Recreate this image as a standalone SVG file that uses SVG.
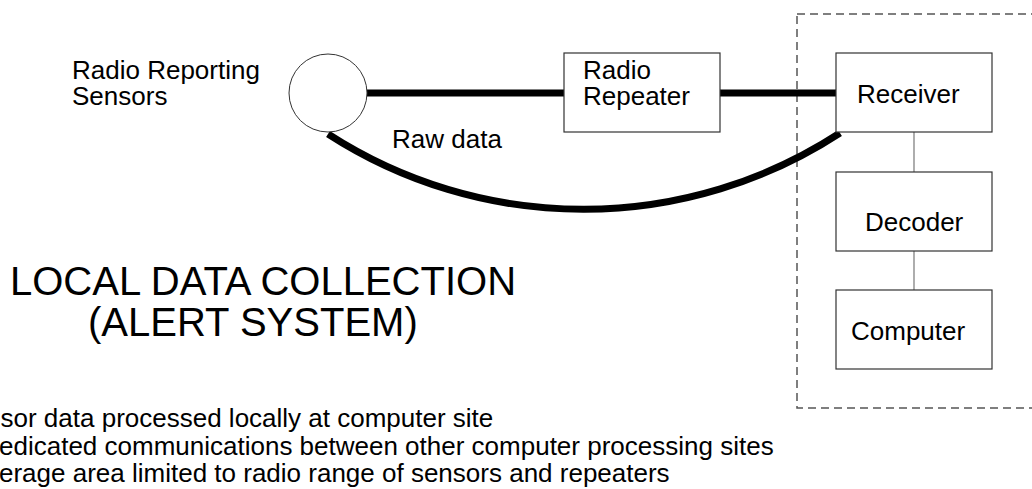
<svg xmlns="http://www.w3.org/2000/svg" width="1032" height="489" viewBox="0 0 1032 489">
<style>
text{font-family:"Liberation Sans",Arial,sans-serif;fill:#000}
.lbl{font-size:26px}
.title{font-size:40px}
.box{fill:#fff;stroke:#333;stroke-width:1.2}
.thick{fill:none;stroke:#000;stroke-width:7}
.thin{fill:none;stroke:#777;stroke-width:1.2}
.dash{fill:none;stroke:#555;stroke-width:1.5;stroke-dasharray:8 5}
</style>
<rect width="1032" height="489" fill="#fff"/>
<g id="site-boundary"><rect class="dash" x="797" y="14" width="300" height="394"/></g>
<g id="connectors">
<line class="thick" x1="367" y1="93" x2="564" y2="93"/>
<line class="thick" x1="720" y1="93" x2="836" y2="93"/>
<path class="thick" d="M328,134 A470,470 0 0 0 840,133"/>
<line class="thin" x1="914" y1="132" x2="914" y2="172"/>
<line class="thin" x1="914" y1="251" x2="914" y2="290"/>
</g>
<g id="sensors">
<circle cx="328" cy="93" r="39" fill="#fff" stroke="#333" stroke-width="1"/>
<text class="lbl" x="72" y="79">Radio Reporting</text>
<text class="lbl" x="72" y="105">Sensors</text>
</g>
<g id="repeater">
<rect class="box" x="564" y="53" width="156" height="79"/>
<text class="lbl" x="583" y="79">Radio</text>
<text class="lbl" x="583" y="105">Repeater</text>
</g>
<g id="receiver">
<rect class="box" x="836" y="53" width="156" height="79"/>
<text class="lbl" x="857" y="103">Receiver</text>
</g>
<g id="decoder">
<rect class="box" x="836" y="172" width="156" height="79"/>
<text class="lbl" x="865" y="231">Decoder</text>
</g>
<g id="computer">
<rect class="box" x="836" y="290" width="156" height="79"/>
<text class="lbl" x="851" y="340">Computer</text>
</g>
<g id="labels">
<text class="lbl" x="392" y="148">Raw data</text>
<text class="title" x="10" y="295">LOCAL DATA COLLECTION</text>
<text class="title" x="88" y="336">(ALERT SYSTEM)</text>
<text class="lbl" x="0.5" y="427">sor data processed locally at computer site</text>
<text class="lbl" x="-1" y="455">edicated communications between other computer processing sites</text>
<text class="lbl" x="-1" y="482">erage area limited to radio range of sensors and repeaters</text>
</g>
</svg>
